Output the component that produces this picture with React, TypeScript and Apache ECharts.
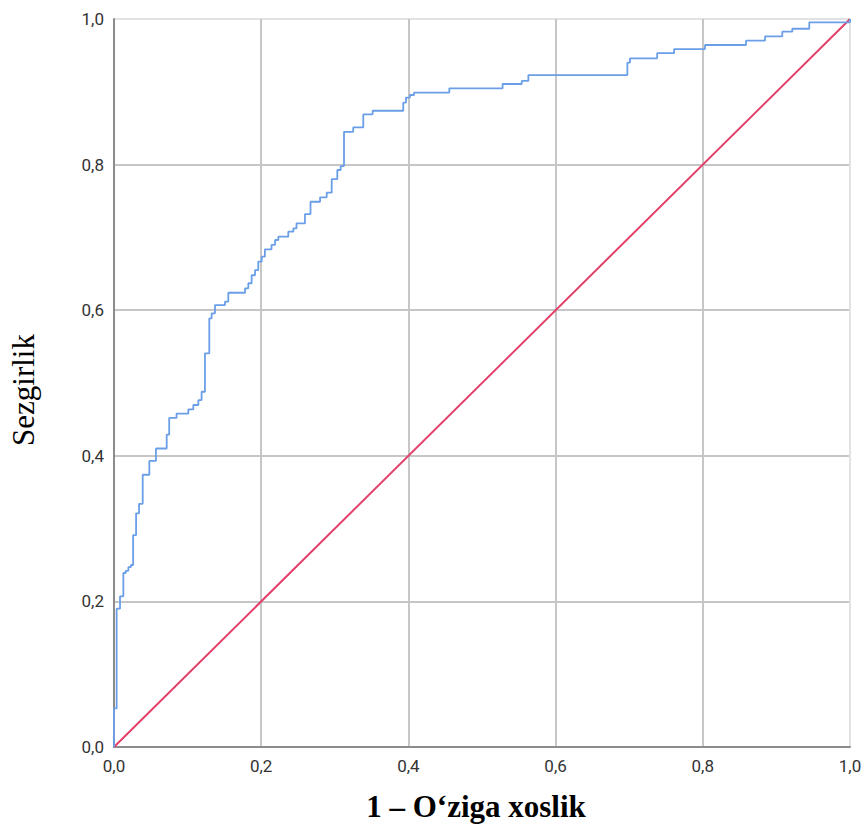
import React, { useEffect, useRef } from "react";
import * as echarts from "echarts";

// ROC staircase: at each riseX[i] the curve rises vertically to riseY[i], then runs right to riseX[i+1]
const riseX = [0, 0.0036, 0.0082, 0.0127, 0.0159, 0.0195, 0.023, 0.026, 0.03, 0.034, 0.039, 0.048, 0.057, 0.0716, 0.075, 0.085, 0.101, 0.1078, 0.1146, 0.119, 0.1236, 0.1295, 0.1327, 0.1372, 0.1508, 0.1553, 0.178, 0.1825, 0.187, 0.1916, 0.196, 0.2007, 0.205, 0.214, 0.2188, 0.2233, 0.2368, 0.2437, 0.248, 0.2595, 0.267, 0.28, 0.289, 0.2958, 0.3034, 0.308, 0.3125, 0.325, 0.3387, 0.3514, 0.393, 0.3967, 0.402, 0.4076, 0.4556, 0.528, 0.554, 0.563, 0.6975, 0.701, 0.738, 0.761, 0.803, 0.8587, 0.8845, 0.908, 0.9216, 0.9447, 1];
const riseY = [0.053, 0.19, 0.207, 0.239, 0.242, 0.247, 0.25, 0.291, 0.321, 0.334, 0.374, 0.393, 0.41, 0.429, 0.452, 0.458, 0.4639, 0.4698, 0.4766, 0.488, 0.5408, 0.5888, 0.5957, 0.6071, 0.6117, 0.624, 0.63, 0.637, 0.648, 0.655, 0.6667, 0.6735, 0.6836, 0.6896, 0.6964, 0.701, 0.7078, 0.7124, 0.7193, 0.7321, 0.749, 0.755, 0.7614, 0.78, 0.7926, 0.798, 0.845, 0.851, 0.869, 0.874, 0.885, 0.892, 0.8956, 0.899, 0.9048, 0.9107, 0.915, 0.923, 0.94, 0.946, 0.953, 0.9587, 0.9643, 0.9702, 0.976, 0.9826, 0.9866, 0.9955, 1];

const referenceX = [0, 1];
const referenceY = [0, 1];

const xTitle = "1 – O‘ziga xoslik";
const yTitle = "Sezgirlik";

function buildRoc(): number[][] {
  const pts: number[][] = [[riseX[0], 0]];
  for (let i = 0; i < riseX.length; i++) {
    pts.push([riseX[i], riseY[i]]);
    if (i + 1 < riseX.length) pts.push([riseX[i + 1], riseY[i]]);
  }
  return pts;
}

const fmt = (v: number) => v.toFixed(1).replace(".", ",");

export default function App() {
  const ref = useRef<HTMLDivElement>(null);
  useEffect(() => {
    if (!ref.current) return;
    const chart = echarts.init(ref.current, undefined, { renderer: "svg" });
    const gridColors = ["#c6c6c6", "#c6c6c6", "#c6c6c6", "#c6c6c6", "#c6c6c6", "#e2e2e2"];
    const labelStyle = { fontFamily: "Roboto", fontSize: 17, color: "#333" };
    chart.setOption({
      animation: false,
      backgroundColor: "#ffffff",
      grid: { left: 114, right: 15, top: 19, bottom: 78 },
      xAxis: {
        type: "value",
        min: 0,
        max: 1,
        interval: 0.2,
        axisLine: { show: true, lineStyle: { color: "#8c8c8c", width: 2 } },
        axisTick: { show: false },
        axisLabel: { ...labelStyle, margin: 10, formatter: fmt },
        splitLine: { show: true, lineStyle: { color: gridColors, width: 2 } },
      },
      yAxis: {
        type: "value",
        min: 0,
        max: 1,
        interval: 0.2,
        axisLine: { show: true, lineStyle: { color: "#8c8c8c", width: 2 } },
        axisTick: { show: false },
        axisLabel: { ...labelStyle, margin: 10, formatter: fmt },
        splitLine: { show: true, lineStyle: { color: gridColors, width: 2 } },
      },
      graphic: [
        {
          type: "text",
          x: 476,
          y: 806,
          style: {
            text: xTitle,
            fontFamily: "Liberation Serif",
            fontWeight: "bold",
            fontSize: 31,
            fill: "#000",
            align: "center",
            verticalAlign: "middle",
          },
        },
        {
          type: "text",
          x: 23,
          y: 390,
          rotation: Math.PI / 2,
          style: {
            text: yTitle,
            fontFamily: "Liberation Serif",
            fontSize: 31,
            fill: "#000",
            align: "center",
            verticalAlign: "middle",
          },
        },
      ],
      series: [
        {
          type: "line",
          data: referenceX.map((x, i) => [x, referenceY[i]]),
          showSymbol: false,
          lineStyle: { color: "#e2406b", width: 2 },
          z: 3,
        },
        {
          type: "line",
          data: buildRoc(),
          showSymbol: false,
          lineStyle: { color: "#6a9fe8", width: 1.8 },
          z: 4,
        },
      ],
    });
    return () => chart.dispose();
  }, []);
  return (
    <div
      ref={ref}
      style={{ position: "fixed", left: 0, top: 0, width: 865, height: 825 }}
    />
  );
}
